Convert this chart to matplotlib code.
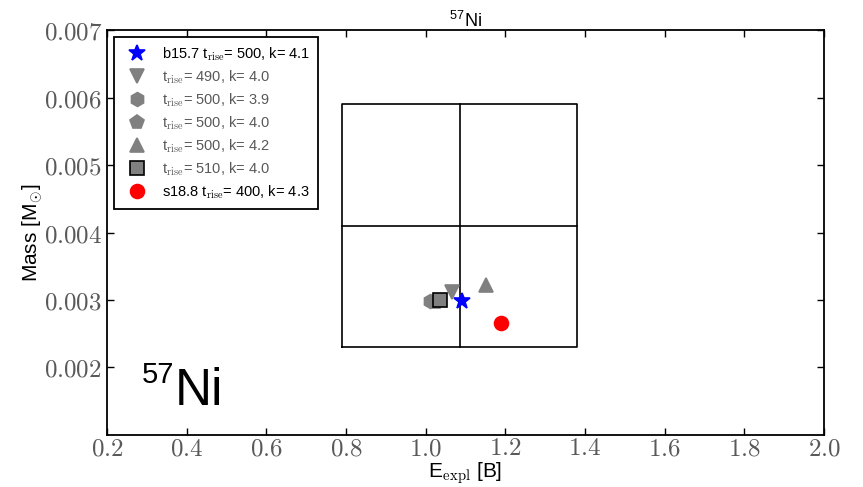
import matplotlib
matplotlib.use("Agg")
import matplotlib.pyplot as plt
from matplotlib.ticker import FuncFormatter

plt.rcParams['font.family'] = ['Liberation Sans', 'DejaVu Sans']
plt.rcParams['mathtext.fontset'] = 'cm'

# models: label, E_expl [B], mass [Msun]
labels = [
    r"b15.7 t$_{\rm rise}$= 500, k= 4.1",
    r"t$_{\rm rise}$= 490, k= 4.0",
    r"t$_{\rm rise}$= 500, k= 3.9",
    r"t$_{\rm rise}$= 500, k= 4.0",
    r"t$_{\rm rise}$= 500, k= 4.2",
    r"t$_{\rm rise}$= 510, k= 4.0",
    r"s18.8 t$_{\rm rise}$= 400, k= 4.3",
]
e_expl = [1.09, 1.065, 1.01, 1.025, 1.15, 1.035, 1.19]
mass = [0.00299, 0.00312, 0.00298, 0.00297, 0.00322, 0.00300, 0.00266]
markers = ['*', 'v', 'h', 'p', '^', 's', 'o']
colors = ['blue', 'gray', 'gray', 'gray', 'gray', 'gray', 'red']
edges = ['blue', 'gray', 'gray', 'gray', 'gray', 'black', 'red']
text_colors = ['black', '0.35', '0.35', '0.35', '0.35', '0.35', 'black']

# observed error box
e_obs, e_err = 1.085, 0.295
m_obs, m_err = 0.0041, 0.0018

xticks = [0.2, 0.4, 0.6, 0.8, 1.0, 1.2, 1.4, 1.6, 1.8, 2.0]
yticks = [0.002, 0.003, 0.004, 0.005, 0.006, 0.007]

fig = plt.figure(figsize=(8.63, 4.87), dpi=100)
ax = fig.add_axes([0.124, 0.107, 0.831, 0.831])

# error box with cross
ax.plot([e_obs - e_err, e_obs + e_err, e_obs + e_err, e_obs - e_err, e_obs - e_err],
        [m_obs - m_err, m_obs - m_err, m_obs + m_err, m_obs + m_err, m_obs - m_err],
        color='black', lw=1.2, zorder=1)
ax.plot([e_obs, e_obs], [m_obs - m_err, m_obs + m_err], color='black', lw=1.2, zorder=1)
ax.plot([e_obs - e_err, e_obs + e_err], [m_obs, m_obs], color='black', lw=1.2, zorder=1)

for i in range(len(labels)):
    ms = 12 if markers[i] == '*' else 10
    ax.plot(e_expl[i], mass[i], linestyle='none', marker=markers[i], ms=ms,
            color=colors[i], mec=edges[i], mew=1.2, label=labels[i], zorder=3)

ax.set_xlim(0.2, 2.0)
ax.set_ylim(0.001, 0.007)
ax.set_xticks(xticks)
ax.set_yticks(yticks)
ax.xaxis.set_major_formatter(FuncFormatter(lambda v, p: r"$%.1f$" % v))
ax.yaxis.set_major_formatter(FuncFormatter(lambda v, p: r"$%.3f$" % v))
ax.tick_params(direction='in', top=True, right=True, length=5, width=1,
               labelsize=18, labelcolor='0.35')
ax.tick_params(axis='x', pad=1)
for s in ax.spines.values():
    s.set_linewidth(1.3)

ax.set_xlabel(r"E$_{\rm expl}$ [B]", fontsize=15, labelpad=0)
ax.set_ylabel(r"Mass [M$_{\odot}$]", fontsize=15, labelpad=-1)
ax.set_title(r"$^{\mathregular{57}}$Ni", fontsize=13, pad=2)

# big isotope label
ax.text(0.288, 0.00177, "57", fontsize=21)
ax.text(0.371, 0.00144, "Ni", fontsize=37)

leg = ax.legend(loc='upper left', fontsize=10.5, numpoints=1, fancybox=False,
                edgecolor='black', framealpha=1, borderpad=0.55, labelspacing=0.38,
                handletextpad=0.7, borderaxespad=0, bbox_to_anchor=(0.01, 0.983))
leg.get_frame().set_linewidth(1.3)
for t, c in zip(leg.get_texts(), text_colors):
    t.set_color(c)

fig.savefig("out.png", dpi=100)
